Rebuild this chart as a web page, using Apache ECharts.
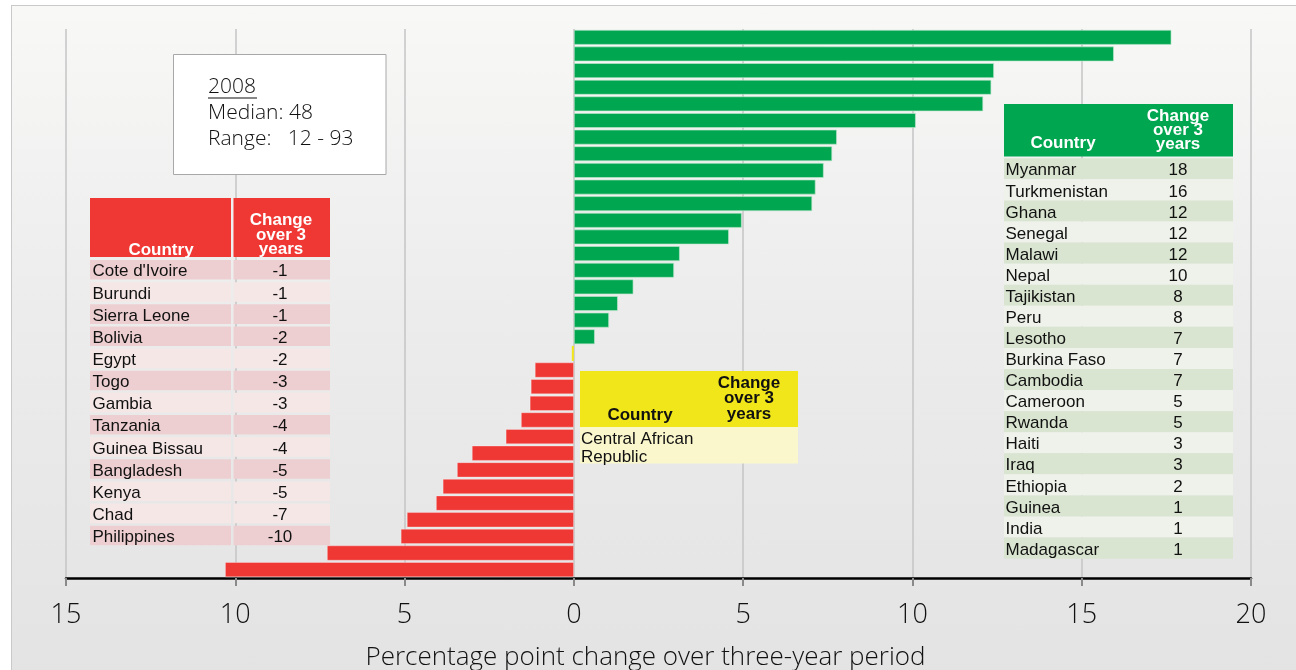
<!DOCTYPE html>
<html>
<head>
<meta charset="utf-8">
<script src="https://cdn.jsdelivr.net/npm/echarts@6/dist/echarts.min.js"></script>
<style>
  html, body { margin: 0; padding: 0; background: #ffffff; overflow: hidden; }
  #frame { position: absolute; left: 11px; top: 5px; width: 1300px; height: 680px;
    border: 1.5px solid #c9c9c9;
    background: linear-gradient(to bottom, #f8f8f7 0%, #ececec 45%, #e3e3e3 100%); }
  #chart { position: absolute; left: 0; top: 0; width: 1296px; height: 670px; }
</style>
</head>
<body>
<div id="frame"></div>
<div id="chart"></div>
<script>
// ---- Data ----
const greenCountries = ['Myanmar','Turkmenistan','Ghana','Senegal','Malawi','Nepal','Tajikistan','Peru','Lesotho','Burkina Faso','Cambodia','Cameroon','Rwanda','Haiti','Iraq','Ethiopia','Guinea','India','Madagascar'];
const greenChanges = [18,16,12,12,12,10,8,8,7,7,7,5,5,3,3,2,1,1,1];
const greenValues = [17.65,15.95,12.41,12.33,12.09,10.10,7.77,7.63,7.38,7.14,7.04,4.96,4.58,3.13,2.96,1.76,1.30,1.04,0.62];

const yellowCountries = ['Central African Republic'];
const yellowValues = [-0.06];

const redCountries = ["Cote d'Ivoire",'Burundi','Sierra Leone','Bolivia','Egypt','Togo','Gambia','Tanzania','Guinea Bissau','Bangladesh','Kenya','Chad','Philippines'];
const redChanges = [-1,-1,-1,-2,-2,-3,-3,-4,-4,-5,-5,-7,-10];
const redValues = [-1.15,-1.27,-1.30,-1.56,-2.01,-3.01,-3.45,-3.87,-4.07,-4.93,-5.11,-7.29,-10.30];
const redRowShade = [1,0,1,1,0,1,0,1,0,1,0,0,1];

const xTicks = [-15,-10,-5,0,5,10,15,20];
const axisTitle = 'Percentage point change over three-year period';
const noteLines = ['2008','Median: 48','Range:   12 - 93'];
const headerCountry = 'Country';
const headerChange = ['Change','over 3','years'];

// ---- Build ----
const categories = greenCountries.concat(yellowCountries, redCountries);
const nG = greenCountries.length, nY = yellowCountries.length;
const fill = (vals, start) => categories.map((c, i) => (i >= start && i < start + vals.length) ? vals[i - start] : '-');

const GREEN = '#00a650', RED = '#ef3734', YELLOW = '#f0e619';
const tableFont = '17px "Liberation Sans", Arial, sans-serif';
const tableBold = 'bold 17px "Liberation Sans", Arial, sans-serif';
const lightFont = '"Open Sans", Roboto, sans-serif';

const g = [];
function rect(x, y, w, h, color, extra) {
  g.push(Object.assign({ type: 'rect', shape: { x, y, width: w, height: h }, style: { fill: color }, z: 10 }, extra || {}));
}
function text(x, y, str, font, color, align) {
  g.push({ type: 'text', x, y, z: 11, style: { text: str, font, fill: color, textAlign: align || 'left', textVerticalAlign: 'middle' } });
}

// Red table
rect(90, 198, 141, 59, RED);
rect(233.5, 198, 96.5, 59, RED);
text(161, 250.5, headerCountry, tableBold, '#fff', 'center');
headerChange.forEach((s, k) => text(281, 220.5 + k * 14.5, s, tableBold, '#fff', 'center'));
redCountries.forEach((c, i) => {
  const top = 260 + i * 22.14;
  const col = redRowShade[i] ? '#eecfd1' : '#f6e7e7';
  rect(90, top, 141, 19.6, col);
  rect(233.5, top, 96.5, 19.6, col);
  text(92.5, top + 11.7, c, tableFont, '#111', 'left');
  text(280, top + 11.7, String(redChanges[i]), tableFont, '#111', 'center');
});

// Green table
rect(1004, 104, 229, 52.5, GREEN);
text(1063, 143.5, headerCountry, tableBold, '#fff', 'center');
headerChange.forEach((s, k) => text(1178, 116 + k * 14, s, tableBold, '#fff', 'center'));
greenCountries.forEach((c, i) => {
  const top = 158.3 + i * 21.07;
  rect(1004, top, 229, 21.07, i % 2 === 0 ? '#d9e5d0' : '#eef2ea');
  text(1005.5, top + 12.5, c, tableFont, '#111', 'left');
  text(1178, top + 12.5, String(greenChanges[i]), tableFont, '#111', 'center');
});

// Yellow table
rect(580, 371, 218, 56, YELLOW);
rect(580, 427, 218, 36.5, '#faf7cd');
text(640, 415, headerCountry, tableBold, '#111', 'center');
headerChange.forEach((s, k) => text(749, 383 + k * 15.5, s, tableBold, '#111', 'center'));
text(581, 439, 'Central African', tableFont, '#111', 'left');
text(581, 457, 'Republic', tableFont, '#111', 'left');

// Note box
rect(173.5, 54.5, 212.5, 120, '#ffffff', { style: { fill: '#ffffff', stroke: '#a8a8a8', lineWidth: 1 } });
const noteFont = '300 21px ' + lightFont;
noteLines.forEach((s, k) => text(208, 87.5 + k * 26, s, noteFont, '#111', 'left'));
g.push({ type: 'line', z: 11, shape: { x1: 208, y1: 98, x2: 257, y2: 98 }, style: { stroke: '#111', lineWidth: 1.2 } });

const chart = echarts.init(document.getElementById('chart'), null, { renderer: 'canvas' });
chart.setOption({
  backgroundColor: 'transparent',
  animation: false,
  grid: { left: 66, right: 45, top: 29, bottom: 92, containLabel: false, outerBoundsMode: 'none' },
  xAxis: {
    type: 'value', min: xTicks[0], max: xTicks[xTicks.length - 1], interval: 5,
    axisLine: { show: true, onZero: false, lineStyle: { color: '#000', width: 2.5 } },
    axisTick: { show: true, length: 8, lineStyle: { color: '#8a8a8a', width: 2 } },
    axisLabel: { margin: 24, fontSize: 27, fontWeight: 300, fontFamily: lightFont, color: '#111',
      formatter: v => String(Math.abs(v)) },
    splitLine: { show: true, lineStyle: { color: '#c4c4c4', width: 1.5 } },
    name: axisTitle, nameLocation: 'middle', nameGap: 67,
    nameTextStyle: { fontSize: 26, fontWeight: 300, fontFamily: lightFont, color: '#111', padding: [0, 26, 0, 0] }
  },
  yAxis: {
    type: 'category', data: categories, inverse: true,
    axisLine: { show: false }, axisTick: { show: false }, axisLabel: { show: false }, splitLine: { show: false }
  },
  series: [
    { name: 'increase', type: 'bar', data: fill(greenValues, 0), barGap: '-100%', barCategoryGap: '10%',
      itemStyle: { color: GREEN, borderColor: 'rgba(190,230,205,0.8)', borderWidth: 0.8 } },
    { name: 'no change', type: 'bar', data: fill(yellowValues, nG), barGap: '-100%', barCategoryGap: '10%',
      itemStyle: { color: YELLOW } },
    { name: 'decrease', type: 'bar', data: fill(redValues, nG + nY), barGap: '-100%', barCategoryGap: '10%',
      itemStyle: { color: RED, borderColor: 'rgba(255,255,255,0.5)', borderWidth: 0.6 } }
  ],
  graphic: g
});
</script>
</body>
</html>
